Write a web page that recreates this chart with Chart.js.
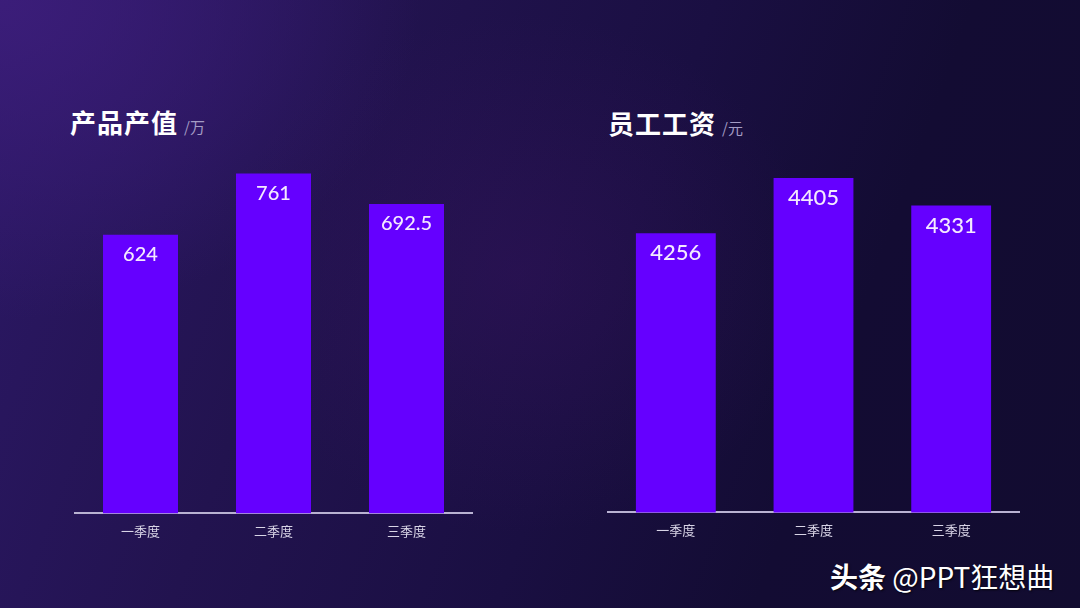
<!DOCTYPE html>
<html>
<head>
<meta charset="utf-8">
<script src="https://cdn.jsdelivr.net/npm/chart.js@4.4.0/dist/chart.umd.min.js"></script>
<style>
    html, body { margin: 0; padding: 0; }
    body {
        width: 1080px; height: 608px; overflow: hidden; position: relative;
        font-family: "Noto Sans CJK SC", "Noto Sans", sans-serif;
        background:
            radial-gradient(ellipse 420px 320px at 0% 0%, rgba(62, 30, 125, 0.85), rgba(62, 30, 125, 0) 100%),
            radial-gradient(ellipse 300px 260px at 48% 45%, rgba(60, 20, 100, 0.35), rgba(60, 20, 100, 0) 100%),
            linear-gradient(110deg, #2c1866 0%, #22134f 30%, #1a0f42 55%, #130c33 75%, #120c30 100%);
    }
    .title { position: absolute; color: #ffffff; font-weight: 700; font-size: 26px; letter-spacing: 1px; }
    .title span { font-weight: 400; font-size: 15px; color: #a49cc4; margin-left: 6px; letter-spacing: 0; }
    .box { position: absolute; }
    .mark {
        position: absolute; left: 830px; top: 562px; color: #fff; font-size: 28px; line-height: 1;
        text-shadow: 1px 1px 2px rgba(0,0,0,0.8); white-space: nowrap;
    }
    .mark b { font-weight: 700; }
</style>
</head>
<body>
<div class="title" style="left:70px; top:103px;">产品产值<span>/万</span></div>
<div class="title" style="left:608px; top:104px;">员工工资<span>/元</span></div>

<div class="box" style="left:74px; top:156px; width:399px; height:393px;"><canvas id="chartValor"></canvas></div>
<div class="box" style="left:607px; top:143px; width:413px; height:405px;"><canvas id="chartSalario"></canvas></div>

<div class="mark"><b>头条</b> @PPT狂想曲</div>

<script>
const quarters = ['一季度', '二季度', '三季度'];
const outputValues = [624, 761, 692.5];
const wageValues = [4256, 4405, 4331];

(function () {
    const BAR = '#6500ff';

    // etiquetas dentro de la barra, cerca del borde superior
    const innerLabels = {
        id: 'innerLabels',
        afterDatasetsDraw(chart, args, opts) {
            const ctx = chart.ctx;
            const meta = chart.getDatasetMeta(0);
            const data = chart.data.datasets[0].data;
            ctx.save();
            ctx.fillStyle = '#f4e9ff';
            ctx.font = '500 ' + opts.size + 'px Lato, "Noto Sans", sans-serif';
            ctx.textAlign = 'center';
            ctx.textBaseline = 'middle';
            meta.data.forEach((bar, i) => {
                ctx.fillText(String(data[i]), bar.x, bar.y + opts.offset);
            });
            ctx.restore();
        }
    };

    function makeChart(id, values, yMin, yMax, pct, labelSize) {
        return new Chart(document.getElementById(id).getContext('2d'), {
            type: 'bar',
            data: {
                labels: quarters,
                datasets: [{ data: values, backgroundColor: BAR, barPercentage: pct, categoryPercentage: 1 }]
            },
            options: {
                responsive: true,
                maintainAspectRatio: false,
                animation: false,
                layout: { padding: 0 },
                scales: {
                    x: {
                        grid: { display: false, drawTicks: false },
                        border: { display: true, color: '#b9b2d2', width: 2 },
                        ticks: { color: '#d8d4e6', font: { size: 13, family: '"Noto Sans CJK SC", sans-serif' }, padding: 10 }
                    },
                    y: { display: false, min: yMin, max: yMax }
                },
                plugins: {
                    legend: { display: false },
                    tooltip: { enabled: false },
                    innerLabels: { size: labelSize, offset: 20 }
                }
            },
            plugins: [innerLabels]
        });
    }

    makeChart('chartValor', outputValues, 0, 800, 0.564, 20);
    makeChart('chartSalario', wageValues, 3500, 4500, 0.58, 22);
})();
</script>
</body>
</html>
